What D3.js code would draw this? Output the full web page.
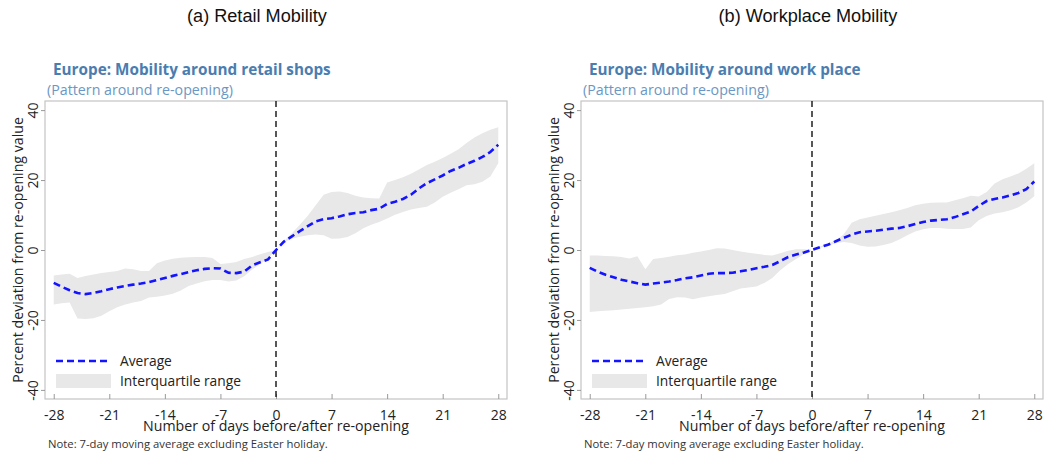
<!DOCTYPE html>
<html><head><meta charset="utf-8">
<script src="https://cdn.jsdelivr.net/npm/d3@7"></script>
<style>body{margin:0;background:#fff} svg{display:block}</style>
</head><body><svg id="chart" width="1044" height="455"></svg>
<script>
// Days relative to re-opening, and axis ticks
const days = d3.range(-28, 29);
const xTicks = [-28, -21, -14, -7, 0, 7, 14, 21, 28];
const yTicks = [-40, -20, 0, 20, 40];

// Retail mobility: average and interquartile range (percent deviation)
const retailAvg = [-9.4,-10.5,-11.5,-12.3,-12.6,-12.3,-11.8,-11.2,-10.7,-10.3,-9.9,-9.6,-9.2,-8.6,-8.0,-7.4,-6.9,-6.3,-5.8,-5.4,-5.2,-5.3,-6.5,-6.6,-6.2,-4.4,-3.5,-2.7,0,
  2.4,3.9,5.4,6.8,8.2,8.8,9.1,9.6,10.2,10.6,10.8,11.4,11.8,13.2,13.8,14.6,15.8,17.6,19.1,20.2,21.3,22.6,23.5,24.6,25.5,26.6,28.0,30.1];
const retailP75 = [-7.3,-7.0,-6.8,-8.0,-7.4,-7.0,-6.6,-6.3,-6.0,-5.3,-5.5,-6.0,-6.0,-3.8,-3.0,-2.5,-2.2,-2.1,-2.0,-2.0,-2.3,-4.0,-3.8,-3.4,-2.6,-2.0,-1.2,-0.6,0,
  2.5,4.8,7.2,9.8,12.8,15.8,16.6,16.7,16.3,15.5,15.0,14.8,14.7,19.3,20.0,20.8,21.8,23.0,24.3,25.2,26.3,27.5,28.8,30.6,32.2,33.4,34.4,35.1];
const retailP25 = [-15.6,-15.2,-15.0,-19.6,-19.7,-19.5,-18.8,-17.5,-16.4,-15.6,-15.0,-14.6,-13.6,-13.4,-13.0,-12.5,-11.6,-10.3,-9.6,-8.9,-8.6,-8.6,-9.0,-8.7,-7.5,-5.6,-4.0,-2.4,0,
  2.2,3.2,3.8,4.2,4.4,4.2,3.2,3.3,3.7,4.8,6.2,7.2,8.0,9.0,10.1,10.9,11.6,12.0,12.4,13.6,15.2,16.4,17.4,18.5,18.8,19.5,21.0,24.8];

// Workplace mobility: average and interquartile range (percent deviation)
const workAvg = [-5.1,-6.2,-7.1,-7.8,-8.5,-9.0,-9.5,-9.9,-9.6,-9.3,-9.0,-8.6,-8.1,-7.8,-7.3,-6.8,-6.6,-6.6,-6.5,-6.1,-5.7,-5.2,-4.8,-4.3,-3.2,-2.0,-1.3,-0.7,0,
  0.8,1.5,2.5,3.5,4.4,5.1,5.3,5.5,5.8,6.1,6.3,6.8,7.4,8.0,8.4,8.6,8.8,9.4,10.2,11.0,12.6,14.0,14.6,15.0,15.6,16.3,17.4,19.6];
const workP75 = [-1.6,-1.6,-1.7,-1.8,-2.0,-2.4,-1.8,-5.5,-2.6,-2.3,-1.9,-1.5,-1.3,-0.8,-0.4,0.0,0.5,0.4,0.0,-0.4,-0.8,-1.1,-1.4,-1.6,-0.9,-0.2,0.2,0.2,0,
  1.0,1.8,2.8,4.5,7.8,8.8,9.3,9.8,10.3,10.8,11.4,12.0,12.8,13.2,13.5,13.6,13.6,14.2,14.8,15.5,15.3,16.6,19.0,20.2,21.0,21.9,23.2,24.8];
const workP25 = [-17.7,-17.5,-17.4,-17.2,-17.0,-16.8,-16.6,-16.4,-16.1,-15.6,-14.0,-13.5,-13.6,-14.1,-13.6,-13.2,-12.9,-12.6,-11.8,-11.0,-10.7,-10.4,-9.4,-8.0,-5.8,-4.0,-2.6,-1.2,0,
  0.6,1.2,1.9,2.3,2.0,1.3,0.9,1.0,1.4,2.0,3.0,4.2,5.3,5.9,6.3,6.3,6.1,6.0,6.0,6.4,8.5,9.7,10.4,10.8,11.4,12.2,13.6,15.4];

const panels = [
  { left: 45, titleX: 257, title: "(a) Retail Mobility", heading: "Europe: Mobility around retail shops",
    avg: retailAvg, p25: retailP25, p75: retailP75 },
  { left: 581, titleX: 808, title: "(b) Workplace Mobility", heading: "Europe: Mobility around work place",
    avg: workAvg, p25: workP25, p75: workP75 }
];

const svg = d3.select("#chart");
const W = 462, TOP = 101, BOTTOM = 399;
const UI = "'Open Sans', 'Noto Sans', sans-serif";
const BLUE_HEAD = "#4a7db0", BLUE_SUB = "#6b97c3";
const fmt = v => String(v); // plain hyphen for negatives

// scale a text's font size so it spans a given width
function fit(sel, width) {
  const base = 20;
  sel.attr("font-size", base);
  const w = sel.node().getComputedTextLength();
  const size = base * width / w;
  sel.attr("font-size", size);
  return size;
}

const sizes = {};

panels.forEach((p, i) => {
  const g = svg.append("g");
  const x = d3.scaleLinear().domain([-29.1, 29.1]).range([p.left, p.left + W]);
  const y = d3.scaleLinear().domain([-42.6, 42.6]).range([BOTTOM, TOP]);

  // panel title
  const t = g.append("text").attr("x", p.titleX).attr("y", 22).attr("text-anchor", "middle")
    .attr("font-family", "'Liberation Sans', Arial, sans-serif").attr("fill", "#111").text(p.title);
  if (i === 0) sizes.title = fit(t, 140); else t.attr("font-size", sizes.title);

  // chart heading and subheading
  const h = g.append("text").attr("x", p.left + 8).attr("y", 75).attr("font-family", UI)
    .attr("font-weight", "bold").attr("fill", BLUE_HEAD).text(p.heading);
  if (i === 0) sizes.head = fit(h, 278); else h.attr("font-size", sizes.head);
  const s = g.append("text").attr("x", p.left + 2).attr("y", 95).attr("font-family", UI)
    .attr("fill", BLUE_SUB).text("(Pattern around re-opening)");
  if (i === 0) sizes.sub = fit(s, 186); else s.attr("font-size", sizes.sub);

  // plot frame
  g.append("rect").attr("x", p.left).attr("y", TOP).attr("width", W).attr("height", BOTTOM - TOP)
    .attr("fill", "none").attr("stroke", "#c4c4c4").attr("stroke-width", 1.2);

  // y axis ticks and rotated labels
  const yAxis = g.append("g").attr("transform", `translate(${p.left},0)`)
    .call(d3.axisLeft(y).tickValues(yTicks).tickSize(4).tickFormat(fmt));
  yAxis.select(".domain").remove();
  yAxis.selectAll(".tick line").attr("stroke", "#999");
  yAxis.selectAll(".tick text")
    .attr("x", null).attr("dy", "0.36em").attr("text-anchor", "middle")
    .attr("transform", "translate(-12,0) rotate(-90)")
    .attr("font-family", UI).attr("font-size", 14).attr("fill", "#222");

  // x axis: ticks point into the plot
  const xAxis = g.append("g").attr("transform", `translate(0,${BOTTOM})`)
    .call(d3.axisBottom(x).tickValues(xTicks).tickSize(-5).tickFormat(fmt));
  xAxis.select(".domain").remove();
  xAxis.selectAll(".tick line").attr("stroke", "#999");
  xAxis.selectAll(".tick text").attr("y", 16).attr("dy", "0.36em").attr("font-family", UI)
    .attr("font-size", 14).attr("fill", "#222");

  // axis titles
  const yt = g.append("text").attr("transform", `translate(${p.left - 27},${y(0)}) rotate(-90)`)
    .attr("text-anchor", "middle").attr("dy", "0.36em").attr("font-family", UI).attr("fill", "#222")
    .text("Percent deviation from re-opening value");
  if (i === 0) sizes.yt = fit(yt, 266); else yt.attr("font-size", sizes.yt);
  const xt = g.append("text").attr("x", x(0)).attr("y", 431).attr("text-anchor", "middle")
    .attr("font-family", UI).attr("fill", "#222").text("Number of days before/after re-opening");
  if (i === 0) sizes.xt = fit(xt, 266); else xt.attr("font-size", sizes.xt);

  // note
  const n = g.append("text").attr("x", p.left + 3).attr("y", 448).attr("font-family", UI)
    .attr("fill", "#333").text("Note: 7-day moving average excluding Easter holiday.");
  if (i === 0) sizes.note = fit(n, 280); else n.attr("font-size", sizes.note);

  // interquartile band
  const rows = days.map((d, k) => ({ d, avg: p.avg[k], lo: p.p25[k], hi: p.p75[k] }));
  g.append("path").datum(rows).attr("fill", "#e8e8e8")
    .attr("d", d3.area().x(r => x(r.d)).y0(r => y(r.lo)).y1(r => y(r.hi)));

  // re-opening marker
  g.append("line").attr("x1", x(0)).attr("x2", x(0)).attr("y1", TOP).attr("y2", BOTTOM)
    .attr("stroke", "#111").attr("stroke-width", 1.4).attr("stroke-dasharray", "6,4");

  // average line
  g.append("path").datum(rows).attr("fill", "none").attr("stroke", "#1414ff")
    .attr("stroke-width", 2.6).attr("stroke-dasharray", "7,4")
    .attr("d", d3.line().x(r => x(r.d)).y(r => y(r.avg)));

  // legend
  const lx = p.left + 11;
  g.append("line").attr("x1", lx).attr("x2", lx + 55).attr("y1", 361).attr("y2", 361)
    .attr("stroke", "#1414ff").attr("stroke-width", 2.6).attr("stroke-dasharray", "7,4");
  g.append("rect").attr("x", lx).attr("y", 374).attr("width", 55).attr("height", 14).attr("fill", "#e8e8e8");
  const la = g.append("text").attr("x", lx + 64).attr("y", 361).attr("dy", "0.36em")
    .attr("font-family", UI).attr("fill", "#222").text("Average");
  const lb = g.append("text").attr("x", lx + 64).attr("y", 381).attr("dy", "0.36em")
    .attr("font-family", UI).attr("fill", "#222").text("Interquartile range");
  if (i === 0) sizes.leg = fit(lb, 121); else lb.attr("font-size", sizes.leg);
  la.attr("font-size", sizes.leg);
});
</script>
</body></html>
